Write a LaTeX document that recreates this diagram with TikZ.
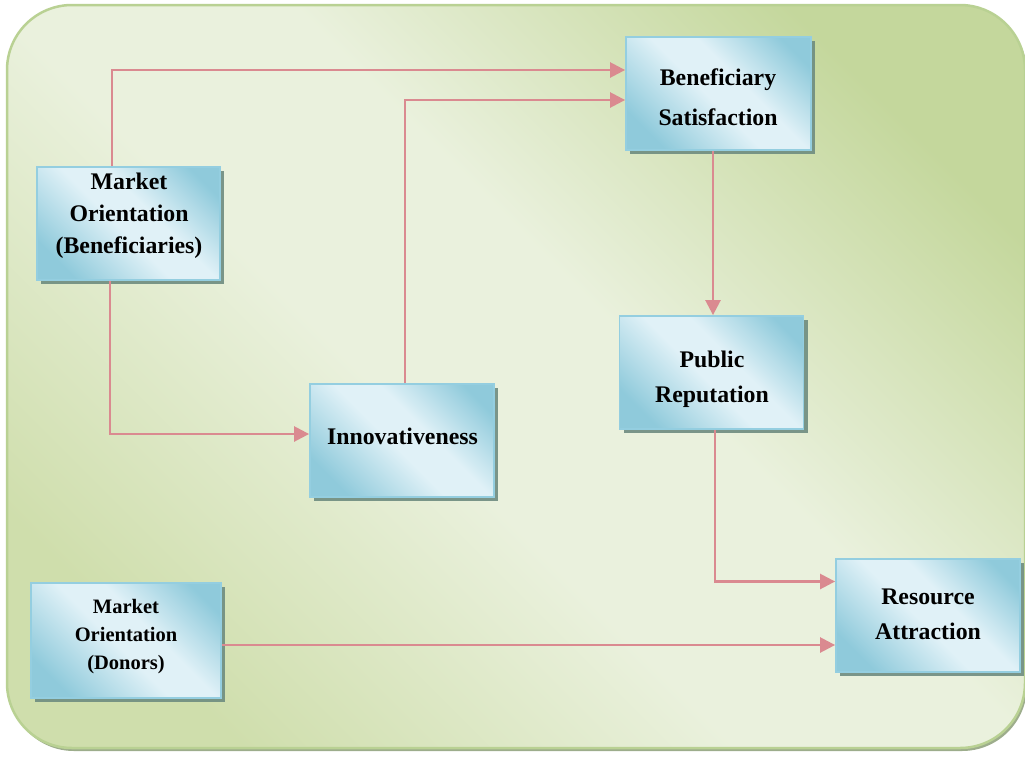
\documentclass[tikz,border=0pt]{standalone}
\usepackage{fontspec}
\setmainfont{Liberation Serif}
\usetikzlibrary{arrows.meta,calc,shadows}

\definecolor{bgGreen}{HTML}{C4D79C}
\definecolor{bgGreenB}{HTML}{CFDEAC}
\definecolor{bgLight}{HTML}{EAF1DD}
\definecolor{bgEdge}{HTML}{B9D193}
\definecolor{bgShadow}{HTML}{9DAD8C}
\definecolor{boxDark}{HTML}{8FCADB}
\definecolor{boxLight}{HTML}{E0F1F7}
\definecolor{boxEdge}{HTML}{94CEE0}
\definecolor{boxShadow}{HTML}{6E8C80}
\definecolor{linkRed}{HTML}{DA8A90}

% diagonal band shadings: dark at two opposite corners, light along the other diagonal
\pgfdeclarehorizontalshading{panel}{100bp}{color(0bp)=(bgGreenB); color(24bp)=(bgGreenB); color(44bp)=(bgLight); color(56bp)=(bgLight); color(76bp)=(bgGreen); color(100bp)=(bgGreen)}
\pgfdeclarehorizontalshading{tile}{100bp}{color(0bp)=(boxDark); color(24bp)=(boxDark); color(47bp)=(boxLight); color(58bp)=(boxLight); color(78bp)=(boxDark); color(100bp)=(boxDark)}

\tikzset{
  tilebox/.style={draw=boxEdge, line width=1.8pt, shading=tile, shading angle=45,
    inner sep=0pt,
    drop shadow={shadow xshift=4pt, shadow yshift=-4pt, fill=boxShadow, opacity=0.9}},
  lbl/.style={align=center, inner sep=0pt, font=\bfseries\fontsize{23.8}{#1}\selectfont},
  lbl/.default={32},
  link/.style={draw=linkRed, line width=2.5pt, -{Triangle[length=15pt,width=15pt]}},
}

\begin{document}
\begin{tikzpicture}[x=1pt, y=-1pt]
\useasboundingbox (0,0) rectangle (1025,758);

% background panel
\fill[bgShadow, rounded corners=65pt] (9,8) rectangle (1027,751);
\draw[draw=bgEdge, line width=2.5pt, rounded corners=65pt, shading=panel, shading angle=45]
  (7,5) rectangle (1025,748);

% boxes
\node[tilebox, minimum width=183pt, minimum height=113pt] (mob) at (128.5,223.5) {};
\node[tilebox, minimum width=185pt, minimum height=113pt] (bs)  at (718.5,93.5) {};
\node[tilebox, minimum width=184pt, minimum height=113pt] (inn) at (402,440.5) {};
\node[tilebox, minimum width=184pt, minimum height=113pt] (pr)  at (711.5,372.5) {};
\node[tilebox, minimum width=184pt, minimum height=113pt] (ra)  at (928,615.5) {};
\node[tilebox, minimum width=190pt, minimum height=115pt] (mod) at (126,640.5) {};

% labels
\node[lbl=32] (mob-t) at (129,216) {Market\\Orientation\\(Beneficiaries)};
\node[lbl=40] (bs-t)  at (718,97.5) {Beneficiary\\Satisfaction};
\node[lbl]    (inn-t) at (402.5,436) {Innovativeness};
\node[lbl=35] (pr-t)  at (712,379.5) {Public\\Reputation};
\node[lbl=35] (ra-t)  at (928,614.5) {Resource\\Attraction};
\node[align=center, inner sep=0pt, font=\bfseries\fontsize{20.5}{28}\selectfont]
  (mod-t) at (126,637) {Market\\Orientation\\(Donors)};

% connectors
\draw[link] ([xshift=-16.5pt]mob.north) |- ([yshift=23.5pt]bs.west);
\draw[link] ([xshift=3pt]inn.north) |- ([yshift=-6.5pt]bs.west);
\draw[link] ([xshift=-18.5pt]mob.south) |- ([yshift=6.5pt]inn.west);
\draw[link] ([xshift=-5.5pt]bs.south) -- ([xshift=-5.5pt]bs.south |- pr.north);
\draw[link] ([xshift=3.5pt]pr.south) |- ([yshift=34pt]ra.west);
\draw[link] ([yshift=-4.5pt]mod.east) -- ([yshift=-4.5pt]mod.east -| ra.west);
\end{tikzpicture}
\end{document}
